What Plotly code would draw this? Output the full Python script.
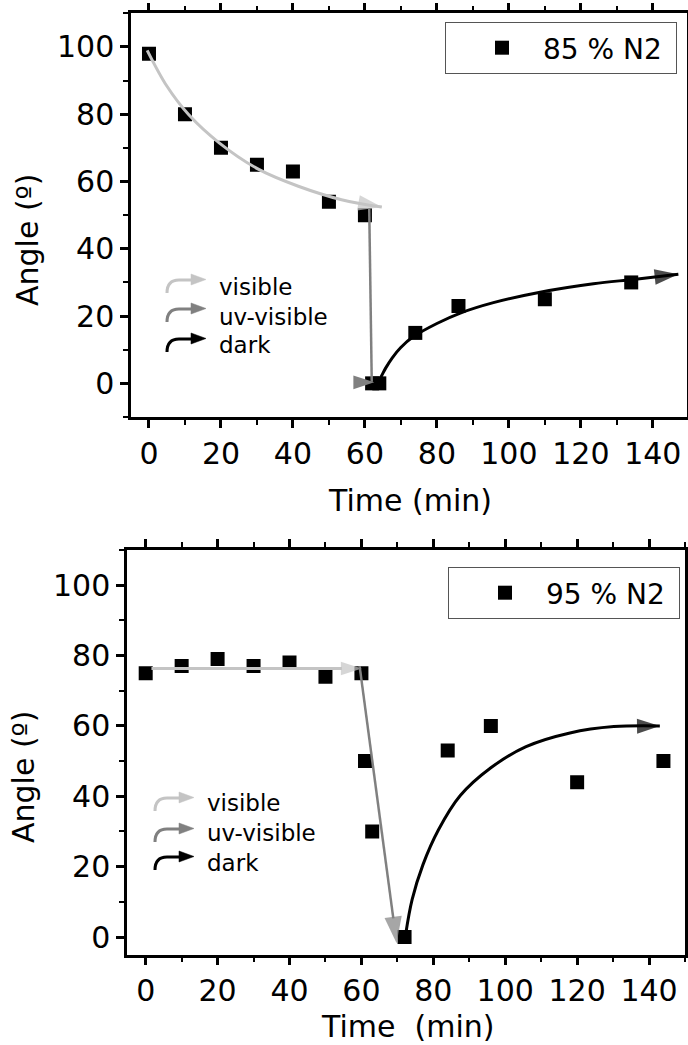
import plotly.graph_objects as go

W, H = 688, 1045

# ---------------- data ----------------
# 85 % N2
t85 = [0, 10, 20, 30, 40, 50, 60, 62, 64, 74, 86, 110, 134]
a85 = [98, 80, 70, 65, 63, 54, 50, 0, 0, 15, 23, 25, 30]
# 95 % N2
t95 = [0, 10, 20, 30, 40, 50, 60, 61, 63, 72, 84, 96, 120, 144]
a95 = [75, 77, 79, 77, 78, 74, 75, 50, 30, 0, 53, 60, 44, 50]

# guide arrows, 85 % N2
vis85_x = [-0.5, 5, 11, 19.5, 30.5, 41.5, 53.5, 64.7]
vis85_y = [99, 88.3, 79.9, 71.5, 63.6, 58.6, 54.6, 52.4]
uv85_x = [61.2, 61.9]
uv85_y = [52, 0.5]
uvhead85_x = [62.6]
uvhead85_y = [0.3]
dark85_x = [63.5, 64.5, 65.8, 67.6, 69.9, 73.5, 80, 86.5, 95.7, 108.7, 123.5, 134.6, 147.1]
dark85_y = [0.3, 2.0, 4.6, 7.6, 10.6, 13.9, 17.8, 20.9, 24, 27.1, 29.6, 30.9, 32.4]

# guide arrows, 95 % N2
vis95_x = [1.6, 60.1]
vis95_y = [76.3, 76.3]
uv95_x = [59.5, 69.8]
uv95_y = [77, -1.8]
dark95_x = [72.3, 74.1, 77.1, 81.4, 87.5, 96, 105.8, 118, 130.2, 143]
dark95_y = [0.7, 10.6, 20.5, 30.4, 40.2, 48.1, 54.1, 58, 59.8, 60]

x_ticks = [0, 20, 40, 60, 80, 100, 120, 140]
y_ticks = [0, 20, 40, 60, 80, 100]
guide_labels = ["visible", "uv-visible", "dark"]

C_VIS = "#c4c4c4"
C_UV = "#808080"
C_DARK = "#000000"
FONT = "DejaVu Sans"


def px(x):
    return x / W


def py(y):
    return 1 - y / H


fig = go.Figure()

# data markers
fig.add_trace(go.Scatter(x=t85, y=a85, mode="markers", name="85 % N2\u00a0",
                         marker=dict(symbol="square", size=14, color="black"),
                         xaxis="x", yaxis="y", legend="legend"))
fig.add_trace(go.Scatter(x=t95, y=a95, mode="markers", name="95 % N2\u00a0",
                         marker=dict(symbol="square", size=14, color="black"),
                         xaxis="x2", yaxis="y2", legend="legend2"))


def arrow(xs, ys, color, width, xa, ya, head=16, spline=True):
    n = len(xs)
    fig.add_trace(go.Scatter(
        x=xs, y=ys, mode="lines+markers", showlegend=False, hoverinfo="skip",
        line=dict(color=color, width=width, shape="spline" if spline else "linear", smoothing=1.0),
        marker=dict(symbol="arrow", size=[0] * (n - 1) + [head], color=color,
                    angleref="previous", line=dict(width=0)),
        xaxis=xa, yaxis=ya))


arrow(vis85_x, vis85_y, C_VIS, 3, "x", "y", head=25)
arrow(uv85_x, uv85_y, C_UV, 2.5, "x", "y", spline=False, head=0)
fig.add_trace(go.Scatter(x=uvhead85_x, y=uvhead85_y, mode="markers", showlegend=False,
                         hoverinfo="skip",
                         marker=dict(symbol="arrow", angle=90, size=22, color=C_UV,
                                     line=dict(width=0)),
                         xaxis="x", yaxis="y"))
arrow(dark85_x, dark85_y, C_DARK, 3, "x", "y", head=25)

arrow(vis95_x, vis95_y, C_VIS, 3, "x2", "y2", spline=False, head=22)
arrow(uv95_x, uv95_y, C_UV, 2.5, "x2", "y2", spline=False, head=28)
arrow(dark95_x, dark95_y, C_DARK, 3, "x2", "y2", head=24)


def common(domain, rng, anchor, vals):
    return dict(domain=domain, range=rng, anchor=anchor, tickvals=vals,
                ticks="outside", ticklen=8, tickwidth=2.5, tickcolor="black",
                showline=True, linewidth=2.5, linecolor="black", mirror="allticks",
                showgrid=False, zeroline=False, automargin=False,
                minor=dict(dtick=10, tick0=0, ticks="outside", ticklen=5, tickwidth=2,
                           tickcolor="black"),
                tickfont=dict(family=FONT, size=30, color="black"))


leg = dict(xanchor="left", yanchor="top", bordercolor="#555", borderwidth=1,
           bgcolor="white", font=dict(family=FONT, size=28, color="black"),
           indentation=15, itemwidth=72)

fig.update_layout(
    width=W, height=H, margin=dict(l=0, r=0, t=0, b=0),
    paper_bgcolor="white", plot_bgcolor="white", showlegend=True,
    xaxis=common([px(131), px(687)], [-5, 149.5], "y", x_ticks),
    yaxis=common([py(417), py(13.3)], [-10, 110], "x", y_ticks),
    xaxis2=common([px(127), px(685)], [-5.2, 150], "y2", x_ticks),
    yaxis2=common([py(954.6), py(550)], [-5, 110], "x2", y_ticks),
    legend=dict(leg, x=px(445), y=py(22)),
    legend2=dict(leg, x=px(448), y=py(567)),
)

annos = []
shapes = []

# axis titles
for txt, x, y, ang in [("Angle (º)", 28, 240, -90), ("Angle (º)", 23, 777, -90),
                       ("Time (min)", 409.5, 500, 0), ("Time\u00a0 (min)", 407, 1026, 0)]:
    annos.append(dict(text=txt, xref="paper", yref="paper", x=px(x), y=py(y),
                      xanchor="center", yanchor="middle", textangle=ang, showarrow=False,
                      font=dict(family=FONT, size=30, color="black")))


def icon(x0, y0, color):
    # tail at (x0, y0) in pixels; curved hook rising to a right-pointing head
    p = lambda a, b: f"{px(x0 + a):.5f},{py(y0 + b):.5f}"
    shapes.append(dict(type="path", xref="paper", yref="paper",
                       path=f"M{p(0, 0)} Q{p(0, -13)} {p(12, -13)} L{p(25, -13)}",
                       line=dict(color=color, width=3)))
    shapes.append(dict(type="path", xref="paper", yref="paper",
                       path=f"M{p(24, -19)} L{p(39, -13.5)} L{p(24, -8)} Z",
                       fillcolor=color, line=dict(color=color, width=0.5)))


cols = [C_VIS, C_UV, C_DARK]
for lab, col, ty, iy in zip(guide_labels, cols, [287, 317, 345], [293, 322, 352]):
    annos.append(dict(text=lab, xref="paper", yref="paper", x=px(217), y=py(ty),
                      xanchor="left", yanchor="middle", showarrow=False,
                      font=dict(family=FONT, size=23, color="black")))
    icon(167, iy, col)
for lab, col, ty, iy in zip(guide_labels, cols, [803, 833, 863], [811, 842, 870]):
    annos.append(dict(text=lab, xref="paper", yref="paper", x=px(205), y=py(ty),
                      xanchor="left", yanchor="middle", showarrow=False,
                      font=dict(family=FONT, size=23, color="black")))
    icon(155, iy, col)

fig.update_layout(annotations=annos, shapes=shapes)

fig.write_html("out.html")
